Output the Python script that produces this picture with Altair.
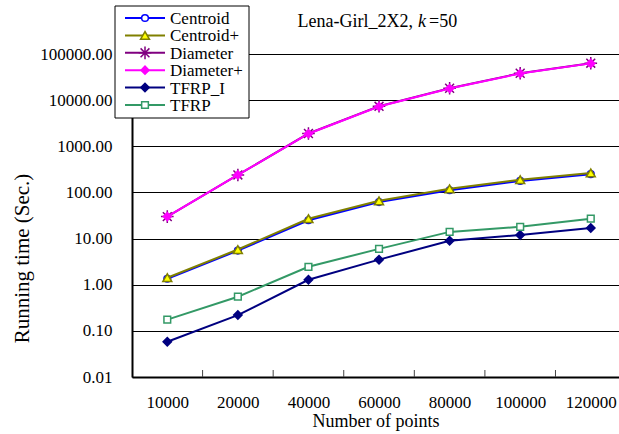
import json
import altair as alt
import pandas as pd

# Number of points (category labels on the x axis)
x_labels = ["10000", "20000", "40000", "60000", "80000", "100000", "120000"]

# Running time in seconds for each method
centroid = [1.35, 5.5, 25, 62, 112, 178, 250]
centroid_plus = [1.42, 5.8, 27, 66, 120, 190, 265]
diameter = [30, 240, 1900, 7400, 18200, 38500, 63500]
diameter_plus = [30, 240, 1880, 7300, 18000, 38000, 63000]
tfrp_i = [0.058, 0.22, 1.28, 3.5, 9.0, 12, 17]
tfrp = [0.175, 0.55, 2.45, 6.0, 14, 18, 27]

series_names = ["Centroid", "Centroid+", "Diameter", "Diameter+", "TFRP_I", "TFRP"]
series_values = [centroid, centroid_plus, diameter, diameter_plus, tfrp_i, tfrp]

y_ticks = [0.01, 0.1, 1, 10, 100, 1000, 10000, 100000]

FONT = "Liberation Serif"
W, H = 487, 369

ASTERISK = "M-1,0L1,0M0,-1L0,1M-0.7,-0.7L0.7,0.7M-0.7,0.7L0.7,-0.7"

# line colour, marker shape, marker fill, marker stroke, marker size
styles = {
    "Centroid": dict(line="#0000FF", shape="circle", fill="#FFFFFF", stroke="#0000FF", size=45),
    "Centroid+": dict(line="#808000", shape="triangle-up", fill="#FFFF00", stroke="#808000", size=80),
    "Diameter": dict(line="#800080", shape=ASTERISK, fill="none", stroke="#800080", size=160),
    "Diameter+": dict(line="#FF00FF", shape="diamond", fill="#FF00FF", stroke="#FF00FF", size=65),
    "TFRP_I": dict(line="#000080", shape="diamond", fill="#000080", stroke="#000080", size=70),
    "TFRP": dict(line="#339966", shape="square", fill="#FFFFFF", stroke="#339966", size=45),
}

rows = []
for name, vals in zip(series_names, series_values):
    for i, v in enumerate(vals):
        rows.append({"series": name, "idx": i, "time": v})
df = pd.DataFrame(rows)

x_scale = alt.Scale(domain=[-0.5, 6.4], nice=False, zero=False)
x_axis = alt.Axis(
    title="Number of points",
    values=list(range(len(x_labels))),
    labelExpr=json.dumps(x_labels) + "[datum.value]",
    grid=False,
    ticks=False,
    domainColor="#000000",
    domainWidth=2,
    labelFont=FONT,
    labelFontSize=17,
    labelColor="#000000",
    labelPadding=17,
    titleFont=FONT,
    titleFontSize=18,
    titleFontWeight="normal",
    titleColor="#000000",
    titlePadding=2,
)
y_scale = alt.Scale(type="log", domain=[0.01, 1000000], nice=False)
y_axis = alt.Axis(
    title="Running time (Sec.)",
    values=y_ticks,
    format=".2f",
    grid=True,
    gridColor="#000000",
    gridWidth=1,
    ticks=False,
    domainColor="#000000",
    domainWidth=2,
    labelFont=FONT,
    labelFontSize=17,
    labelColor="#000000",
    labelPadding=20,
    titleFont=FONT,
    titleFontSize=21,
    titleFontWeight="normal",
    titleColor="#000000",
    titleAngle=270,
    titleX=-110,
    titleY=250,
    titleAlign="center",
    titleBaseline="middle",
)

X = alt.X("idx:Q", scale=x_scale, axis=x_axis)
Y = alt.Y("time:Q", scale=y_scale, axis=y_axis)

layers = []
for name in series_names:
    st = styles[name]
    sub = alt.Chart(df[df.series == name])
    layers.append(sub.mark_line(color=st["line"], strokeWidth=2).encode(x=X, y=Y))
    layers.append(
        sub.mark_point(
            shape=st["shape"], filled=True, fill=st["fill"], stroke=st["stroke"],
            strokeWidth=1.5, size=st["size"], opacity=1,
        ).encode(x=X, y=Y)
    )

# inward tick marks between categories on the x axis
ticks_df = pd.DataFrame({"idx": [i + 0.5 for i in range(len(x_labels) - 1)]})
layers.append(
    alt.Chart(ticks_df).mark_rule(color="#444444", strokeWidth=1).encode(
        x=X, y=alt.value(H - 7), y2=alt.value(H)
    )
)

# legend box
one = pd.DataFrame({"k": [0]})
layers.append(
    alt.Chart(one).mark_rect(fill="#FFFFFF", stroke="#000000", strokeWidth=1).encode(
        x=alt.value(-17), x2=alt.value(117), y=alt.value(-2), y2=alt.value(110)
    )
)
for i, name in enumerate(series_names):
    st = styles[name]
    yy = 10 + i * 17.4
    layers.append(
        alt.Chart(one).mark_rule(color=st["line"], strokeWidth=2).encode(
            x=alt.value(-7), x2=alt.value(33), y=alt.value(yy)
        )
    )
    layers.append(
        alt.Chart(one).mark_point(
            shape=st["shape"], filled=True, fill=st["fill"], stroke=st["stroke"],
            strokeWidth=1.5, size=st["size"], opacity=1,
        ).encode(x=alt.value(13), y=alt.value(yy))
    )
    layers.append(
        alt.Chart(one).mark_text(
            text=name, font=FONT, fontSize=17, align="left", baseline="middle", color="#000000"
        ).encode(x=alt.value(38), y=alt.value(yy + 1))
    )

# chart heading with italic k
layers.append(
    alt.Chart(one).mark_text(
        text="Lena-Girl_2X2,", font=FONT, fontSize=18, align="right", baseline="alphabetic", color="#000000"
    ).encode(x=alt.value(281), y=alt.value(19))
)
layers.append(
    alt.Chart(one).mark_text(
        text="k", font=FONT, fontSize=18, fontStyle="italic", align="left", baseline="alphabetic", color="#000000"
    ).encode(x=alt.value(286), y=alt.value(19))
)
layers.append(
    alt.Chart(one).mark_text(
        text="=50", font=FONT, fontSize=18, align="left", baseline="alphabetic", color="#000000"
    ).encode(x=alt.value(297), y=alt.value(19))
)

chart = (
    alt.layer(*layers)
    .properties(
        width=W,
        height=H,
        autosize=alt.AutoSizeParams(type="none"),
        padding={"left": 132, "top": 8, "right": 0, "bottom": 57},
        background="#FFFFFF",
    )
    .configure_view(stroke=None)
)

chart.save("out.html", embed_options={"renderer": "svg", "actions": False})
